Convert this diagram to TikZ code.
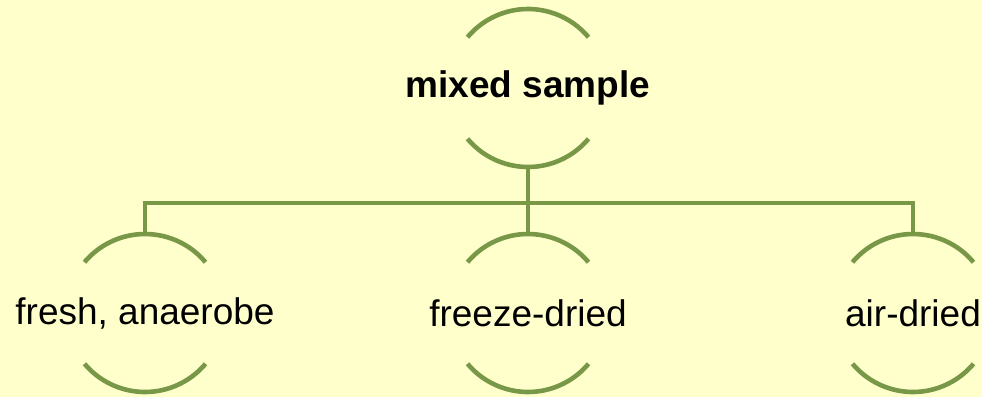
\documentclass[tikz,border=0pt]{standalone}
\usepackage{fontspec}
\setmainfont{Liberation Sans}
\definecolor{paper}{HTML}{FFFFCC}
\definecolor{stem}{HTML}{789848}
\begin{document}
\begin{tikzpicture}[x=1pt,y=1pt,
  ring/.style={circle,minimum size=158pt,inner sep=0pt,outer sep=0pt,draw=none},
  label/.style={font=\fontsize{37}{44}\selectfont,inner sep=0pt},
  wire/.style={draw=stem,line width=4.6pt},
  brace/.style={draw=stem,line width=4.6pt,line cap=butt}]
  \fill[paper] (0,0) rectangle (982,397);
  \useasboundingbox (0,0) rectangle (982,397);

  % ring placeholders and their texts
  \node[ring] (root) at (528,309) {};
  \node[ring] (fresh) at (145,84) {};
  \node[ring] (freeze) at (528,84) {};
  \node[ring] (air) at (913,84) {};
  \node[label,font=\fontsize{37}{44}\selectfont\bfseries] at (root) {mixed sample};
  \node[label] at (fresh) {fresh, anaerobe};
  \node[label] at (freeze) {freeze-dried};
  \node[label] at (air) {air-dried};

  % upper and lower arcs of each ring
  \foreach \n in {root,fresh,freeze,air}{
    \draw[brace] (\n.40) arc[start angle=40,end angle=140,radius=79pt];
    \draw[brace] (\n.220) arc[start angle=220,end angle=320,radius=79pt];
  }

  % tree connectors
  \coordinate (bus) at (528,194);
  \draw[wire] (root.south) -- (freeze.north);
  \draw[wire] (fresh.north) |- (bus) -| (air.north);
\end{tikzpicture}
\end{document}
